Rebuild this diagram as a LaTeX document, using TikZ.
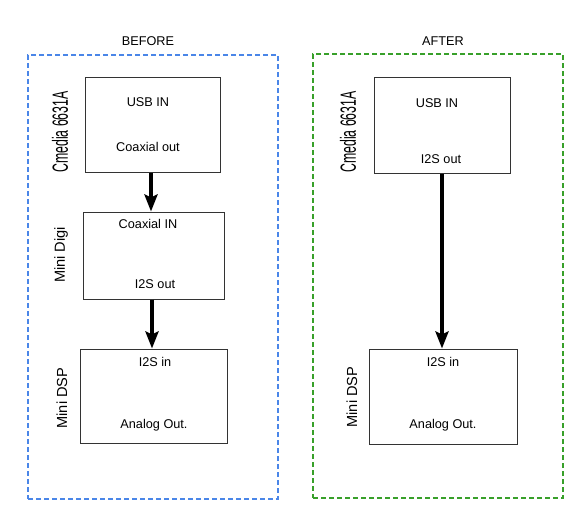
\documentclass[tikz,border=0pt]{standalone}
\usepackage{fontspec}
\setmainfont{Liberation Sans}
\usepackage{graphicx}
\usetikzlibrary{arrows.meta}
\usetikzlibrary{positioning}
\definecolor{beforeblue}{HTML}{4A86E8}
\definecolor{aftergreen}{HTML}{38A02A}

\begin{document}
\begin{tikzpicture}[x=1pt,y=-1pt,font=\fontsize{12.7}{14}\selectfont,
  block/.style={draw=black!80,line width=1pt,inner sep=0pt},
  group/.style={draw,dashed,line width=2.4pt,dash pattern=on 5pt off 3pt,inner sep=0pt,minimum width=250pt,minimum height=444pt},
  side label/.style={rotate=90,font=\fontsize{14.6}{16}\selectfont},
  link/.style={line width=4.6pt,-{Stealth[length=17pt,width=13pt,inset=3pt]}}]

	      \useasboundingbox (0,0) rectangle (584,520);

	      % before
	      \node[group,draw=beforeblue] at (153,277) (before) {};
	      \node at (148,41) (beforetitle) {BEFORE};
	      \node[block,minimum width=135pt,minimum height=95pt] at (152.5,124.5) (cmedia) {};
	      \node[block,minimum width=141pt,minimum height=87pt] at (153.5,255.5) (digi) {};
	      \node[block,minimum width=147pt,minimum height=94pt] at (153.5,396) (dsp) {};
	      \node at (148,102) (cmediain) {USB IN};
	      \node at (148,147) (cmediaout) {Coaxial out};
	      \node at (148,224) (digiin) {Coaxial IN};
	      \node at (155,284) (digiout) {I2S out};
	      \node at (155,362) (dspin) {I2S in};
	      \node at (154,425) (dspout) {Analog Out.};
	      \node[rotate=90] at (60,132) (cmedialabel) {\scalebox{0.56}[1]{\fontsize{22}{24}\selectfont Cmedia 6631A}};
	      \node[side label] at (61,255) (digilabel) {Mini Digi};
	      \node[side label] at (62,398) (dsplabel) {Mini DSP};

	      \draw[link] (cmedia.south -| 151,0) -- (digi.north -| 151,0);
	      \draw[link] (digi.south -| 152,0) -- (dsp.north -| 152,0);

	      % after
	      \node[group,draw=aftergreen] at (438,276) (after) {};
	      \node at (443,41) (aftertitle) {AFTER};
	      \node[block,minimum width=136pt,minimum height=96pt] at (442,125) (cmediatwo) {};
	      \node[block,minimum width=148pt,minimum height=95pt] at (443,396.5) (dsptwo) {};
	      \node at (437,103) (cmediatwoin) {USB IN};
	      \node at (441,159) (cmediatwoout) {I2S out};
	      \node at (443,362) (dsptwoin) {I2S in};
	      \node at (443,425) (dsptwoout) {Analog Out.};
	      \node[rotate=90] at (348,132) (cmediatwolabel) {\scalebox{0.56}[1]{\fontsize{22}{24}\selectfont Cmedia 6631A}};
	      \node[side label] at (352,397) (dsptwolabel) {Mini DSP};

	      \draw[link] (cmediatwo.south) -- (dsptwo.north -| cmediatwo.south);

	    \end{tikzpicture}
\end{document}
